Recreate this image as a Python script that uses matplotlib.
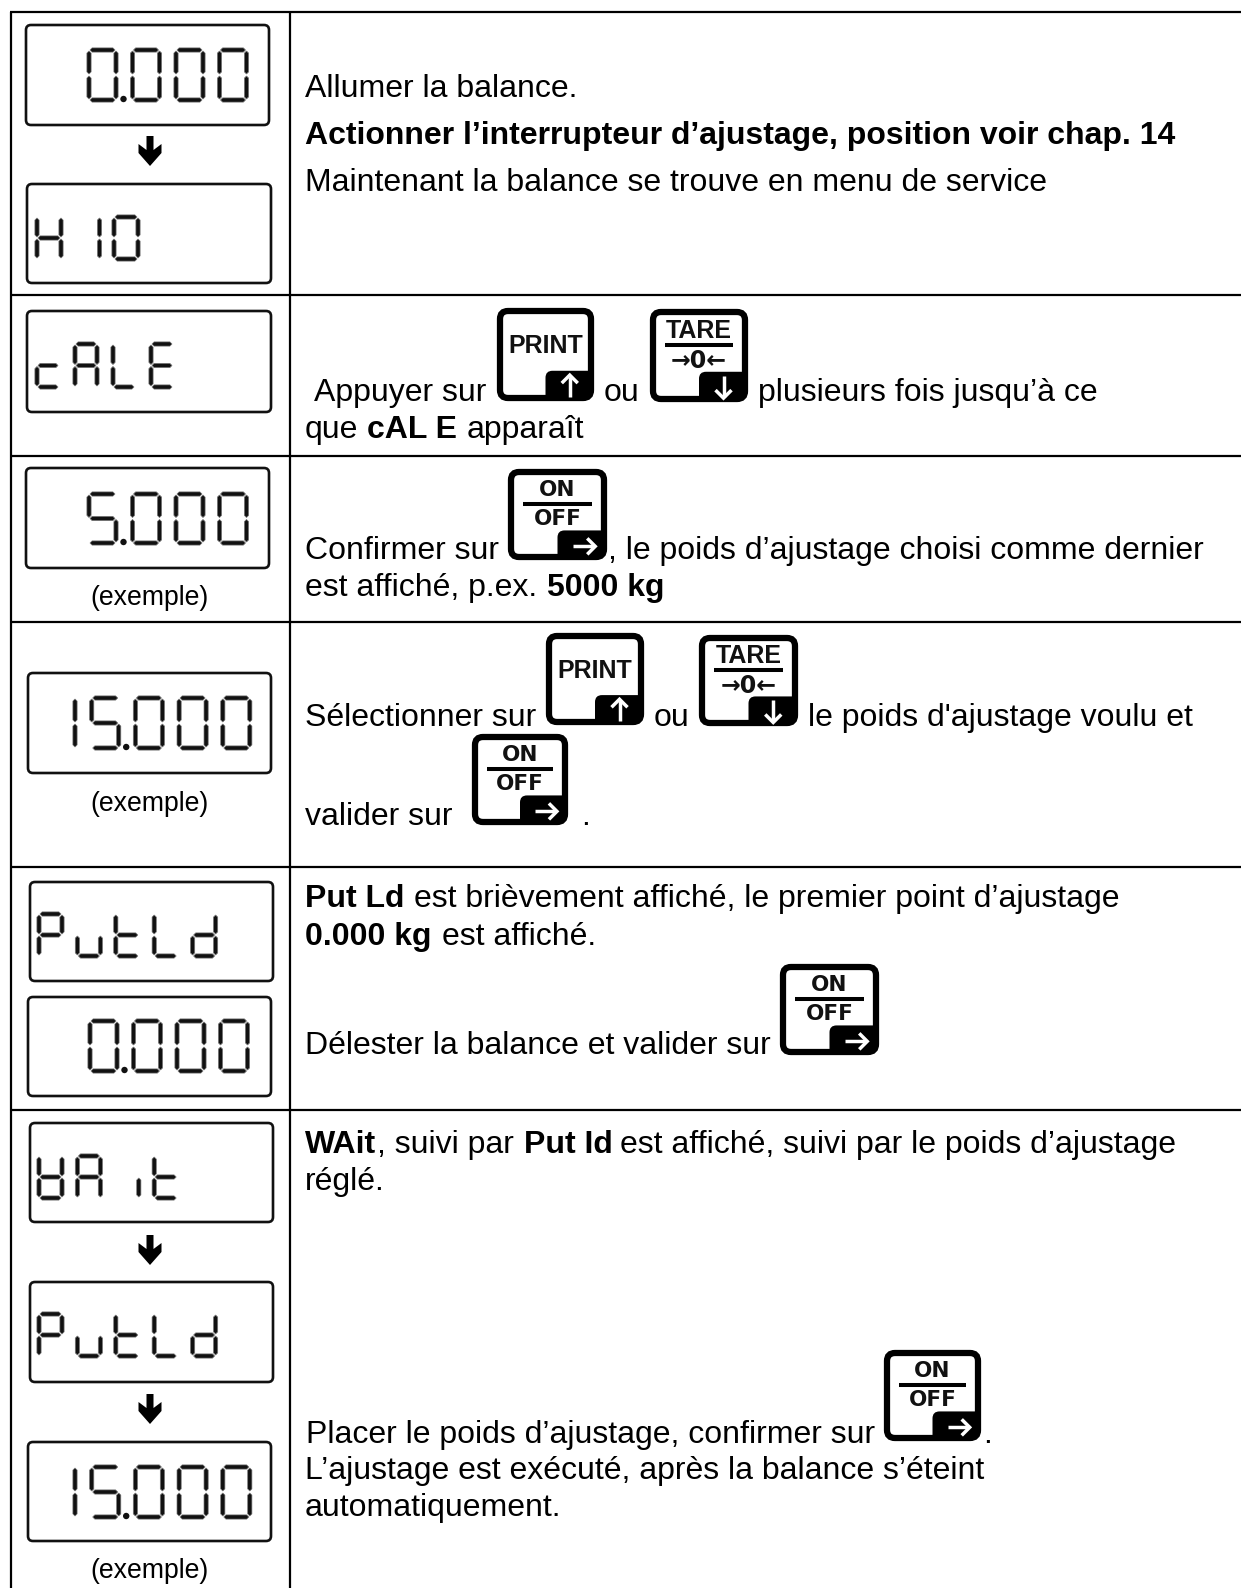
#!/usr/bin/env python3
"""Service menu table of a scale: LCD displays on the left, steps on the right."""

import numpy as np
import matplotlib
matplotlib.use('Agg')
import matplotlib.pyplot as plt
from matplotlib.patches import FancyBboxPatch, Polygon, PathPatch
from matplotlib.path import Path

W, H = 1241, 1588
FONT = 'Liberation Sans'
TXT = 23.05

# what the displays show
display_text = ['0.000', 'H10', 'cALE', '5.000', '15.000', 'PutLd', '0.000',
                'WAit', 'PutLd', '15.000']
example_note = '(exemple)'

# text of the right column, (text, bold) in reading order
step_runs = [
    [('Allumer la balance.', False)],
    [('Actionner l’interrupteur d’ajustage, position voir chap. 14', True)],
    [('Maintenant la balance se trouve en menu de service', False)],
    [('Appuyer sur', False)],
    [('ou', False)],
    [('plusieurs fois jusqu’à ce', False)],
    [('que', False)],
    [('cAL E', True)],
    [('apparaît', False)],
    [('Confirmer sur', False)],
    [(', le poids d’ajustage choisi comme dernier', False)],
    [('est affiché, p.ex.', False)],
    [('5000 kg', True)],
    [('Sélectionner sur', False)],
    [('ou', False)],
    [('le poids d\'ajustage voulu et', False)],
    [('valider sur', False)],
    [('.', False)],
    [('Put Ld', True)],
    [('est brièvement affiché, le premier point d’ajustage', False)],
    [('0.000 kg', True)],
    [('est affiché.', False)],
    [('Délester la balance et valider sur', False)],
    [('WAit', True)],
    [(', suivi par', False)],
    [('Put Id', True)],
    [('est affiché, suivi par le poids d’ajustage', False)],
    [('réglé.', False)],
    [('Placer le poids d’ajustage, confirmer sur', False)],
    [('.', False)],
    [('L’ajustage est exécuté, après la balance s’éteint', False)],
    [('automatiquement.', False)],
]

# layout in pixels of the page, same order as the lists above
row_lines = [12, 295, 456, 622, 867, 1110]
col_lines = [11, 290]
step_pos = [(305, 97), (305, 144), (305, 191),
            (314, 401), (604, 401), (758, 401), (305, 438), (367, 438), (467, 438),
            (305, 559), (608, 559), (305, 596), (547, 596),
            (305, 726), (654, 726), (808, 726), (305, 825), (581, 825),
            (305, 907), (414, 907), (305, 945), (442, 945), (305, 1054),
            (305, 1153), (377, 1153), (524, 1153), (620, 1153), (305, 1190),
            (306, 1443), (983, 1443), (305, 1479), (305, 1516)]
display_boxes = [(26, 25, 269, 125), (27, 184, 271, 283), (27, 311, 271, 412),
                 (26, 468, 269, 568), (28, 673, 271, 773), (30, 882, 273, 981),
                 (28, 997, 271, 1096), (30, 1123, 273, 1222), (30, 1282, 273, 1382),
                 (28, 1442, 271, 1541)]
# top and bottom of the glyphs, x of the first cell, cell width, pitch
display_cells = [(48, 102, 87, 31, 43.5), (215, 261, 35, 28, 38.5), (342, 389, 35, 26, 38.0),
                 (492, 545, 87, 31, 43.5), (696, 750, 46, 31, 43.7), (912, 958, 37, 27, 38.4),
                 (1019, 1073, 88, 31, 43.5), (1154, 1200, 37, 27, 38.4), (1312, 1358, 37, 27, 38.4),
                 (1465, 1519, 46, 31, 43.7)]
arrow_tops = [136, 1235, 1394]
note_y = [598, 804, 1571]
key_print = [(497, 308, 594, 401), (546, 633, 644, 725)]
key_tare = [(650, 309, 748, 402), (699, 635, 798, 726)]
key_onoff = [(508, 469, 607, 560), (472, 734, 568, 825), (780, 964, 879, 1055), (884, 1350, 981, 1441)]

SEGMENTS = {'0': 'abcdef', '1': 'bc', '5': 'acdfg', 'H': 'bcefg', 'c': 'deg', 'A': 'abcefg',
            'L': 'def', 'E': 'adefg', 'P': 'abefg', 'u': 'cde', 't': 'defg', 'd': 'bcdeg',
            'W': 'bcdefg', 'i': 'c', ' ': ''}


def draw_segment(ax, p, q, t=2.1):
    p, q = np.array(p, float), np.array(q, float)
    d = (q - p) / np.linalg.norm(q - p)
    n = np.array([-d[1], d[0]])
    pts = [p, p + d * t + n * t, q - d * t + n * t, q, q - d * t - n * t, p + d * t - n * t]
    ax.add_patch(Polygon(pts, closed=True, fc='#111111', ec='#777777', lw=0.5))


def draw_char(ax, ch, x0, top, w, bot):
    ins = 2.0
    l, r = x0 + ins, x0 + w - ins
    t, b = top + ins, bot - ins
    m = (top + bot) / 2
    gap = 1.0
    ends = {
        'a': ((l + gap, t), (r - gap, t)),
        'b': ((r, t + gap), (r, m - gap)),
        'c': ((r, m + gap), (r, b - gap)),
        'd': ((l + gap, b), (r - gap, b)),
        'e': ((l, m + gap), (l, b - gap)),
        'f': ((l, t + gap), (l, m - gap)),
        'g': ((l + gap, m), (r - gap, m)),
    }
    for s in SEGMENTS[ch]:
        draw_segment(ax, *ends[s])


def draw_display(ax, text, box, cells):
    x0, y0, x1, y1 = box
    ax.add_patch(FancyBboxPatch((x0, y0), x1 - x0, y1 - y0, boxstyle='round,pad=0,rounding_size=5',
                                fc='white', ec='#111111', lw=1.9))
    top, bot, cx, cw, pitch = cells
    x = cx
    for ch in text:
        if ch == '.':
            ax.add_patch(plt.Circle((x - pitch + cw + 5.5, bot - 3), 3.2, fc='#111111', ec='none'))
            continue
        draw_char(ax, ch, x, top, cw, bot)
        x += pitch


def draw_down_arrow(ax, y, x=150):
    rel = [(-3.5, 0), (3.5, 0), (3.5, 14), (11.5, 8), (11.5, 17), (0, 30), (-11.5, 17), (-11.5, 8), (-3.5, 14)]
    ax.add_patch(Polygon([(x + a, y + b) for a, b in rel], closed=True, fc='black', ec='none'))


def tab_path(x0, y0, x1, y1):
    # black corner of the key, lower right
    r = 7
    v = [(x0, y1), (x0, y0 + r), (x0, y0), (x0 + r, y0), (x1, y0), (x1, y1), (x0, y1)]
    c = [Path.MOVETO, Path.LINETO, Path.CURVE3, Path.CURVE3, Path.LINETO, Path.LINETO, Path.CLOSEPOLY]
    return Path(v, c)


def draw_tab_arrow(ax, cx, cy, direction, s=1.0):
    dx, dy = {'up': (0, -1), 'down': (0, 1), 'right': (1, 0)}[direction]
    nx, ny = -dy, dx
    L, hw = 11 * s, 8 * s
    tip = (cx + dx * L, cy + dy * L)
    ax.plot([cx - dx * L, tip[0] - dx * 1.5], [cy - dy * L, tip[1] - dy * 1.5], color='white',
            lw=2.5, solid_capstyle='butt')
    ax.plot([tip[0] - dx * hw + nx * hw, tip[0], tip[0] - dx * hw - nx * hw],
            [tip[1] - dy * hw + ny * hw, tip[1], tip[1] - dy * hw - ny * hw], color='white',
            lw=2.5, solid_joinstyle='miter', solid_capstyle='butt')


def draw_key(ax, box, kind):
    x0, y0, x1, y1 = box
    w, h = x1 - x0, y1 - y0
    ax.add_patch(FancyBboxPatch((x0 + 3, y0 + 3), w - 6, h - 6, boxstyle='round,pad=0,rounding_size=8',
                                fc='white', ec='black', lw=4.5))
    tx0, ty0 = x0 + 0.5 * w, y0 + 0.675 * h
    ax.add_patch(PathPatch(tab_path(tx0, ty0, x1 - 3, y1 - 3), fc='black', ec='none'))
    cx = x0 + 0.5 * w
    if kind == 'print':
        ax.text(cx, y0 + 0.41 * h, 'PRINT', family=FONT, weight='bold', fontsize=18,
                ha='center', va='center', color='#111111')
        draw_tab_arrow(ax, x0 + 0.75 * w, y0 + 0.84 * h, 'up')
    elif kind == 'tare':
        ax.text(cx, y0 + 0.235 * h, 'TARE', family=FONT, weight='bold', fontsize=18,
                ha='center', va='center', color='#111111')
        ax.plot([x0 + 0.155 * w, x0 + 0.845 * w], [y0 + 0.39 * h] * 2, color='black', lw=2.9,
                solid_capstyle='butt')
        ax.text(cx, y0 + 0.56 * h, '→0←', family='DejaVu Sans', weight='bold', fontsize=17,
                ha='center', va='center', color='#111111')
        draw_tab_arrow(ax, x0 + 0.75 * w, y0 + 0.84 * h, 'down')
    else:
        ax.text(cx, y0 + 0.235 * h, 'ON', family='DejaVu Sans', weight='bold', fontsize=15.5,
                ha='center', va='center', color='#111111')
        ax.plot([x0 + 0.155 * w, x0 + 0.845 * w], [y0 + 0.38 * h] * 2, color='black', lw=2.9,
                solid_capstyle='butt')
        ax.text(cx, y0 + 0.545 * h, 'OFF', family='DejaVu Sans', weight='bold', fontsize=15.5,
                ha='center', va='center', color='#111111')
        draw_tab_arrow(ax, x0 + 0.77 * w, y0 + 0.85 * h, 'right')


def main():
    fig = plt.figure(figsize=(W / 100, H / 100), dpi=100)
    ax = fig.add_axes([0, 0, 1, 1])
    ax.set_xlim(0, W)
    ax.set_ylim(H, 0)
    ax.axis('off')

    # table rules
    for y in row_lines:
        ax.plot([col_lines[0] - 1, W], [y, y], color='black', lw=1.6, solid_capstyle='butt')
    for x in col_lines:
        ax.plot([x, x], [row_lines[0], H], color='black', lw=1.6, solid_capstyle='butt')

    for text, box, cells in zip(display_text, display_boxes, display_cells):
        draw_display(ax, text, box, cells)
    for y in arrow_tops:
        draw_down_arrow(ax, y)
    for y in note_y:
        ax.text(150, y, example_note, family=FONT, fontsize=19.2, ha='center', va='center', color='black')

    for box in key_print:
        draw_key(ax, box, 'print')
    for box in key_tare:
        draw_key(ax, box, 'tare')
    for box in key_onoff:
        draw_key(ax, box, 'onoff')

    for runs, (x, y) in zip(step_runs, step_pos):
        for text, bold in runs:
            ax.text(x, y, text, family=FONT, weight='bold' if bold else 'normal', fontsize=TXT,
                    ha='left', va='baseline', color='black')

    fig.savefig('out.png', dpi=100, facecolor='white')


if __name__ == "__main__":
    main()
